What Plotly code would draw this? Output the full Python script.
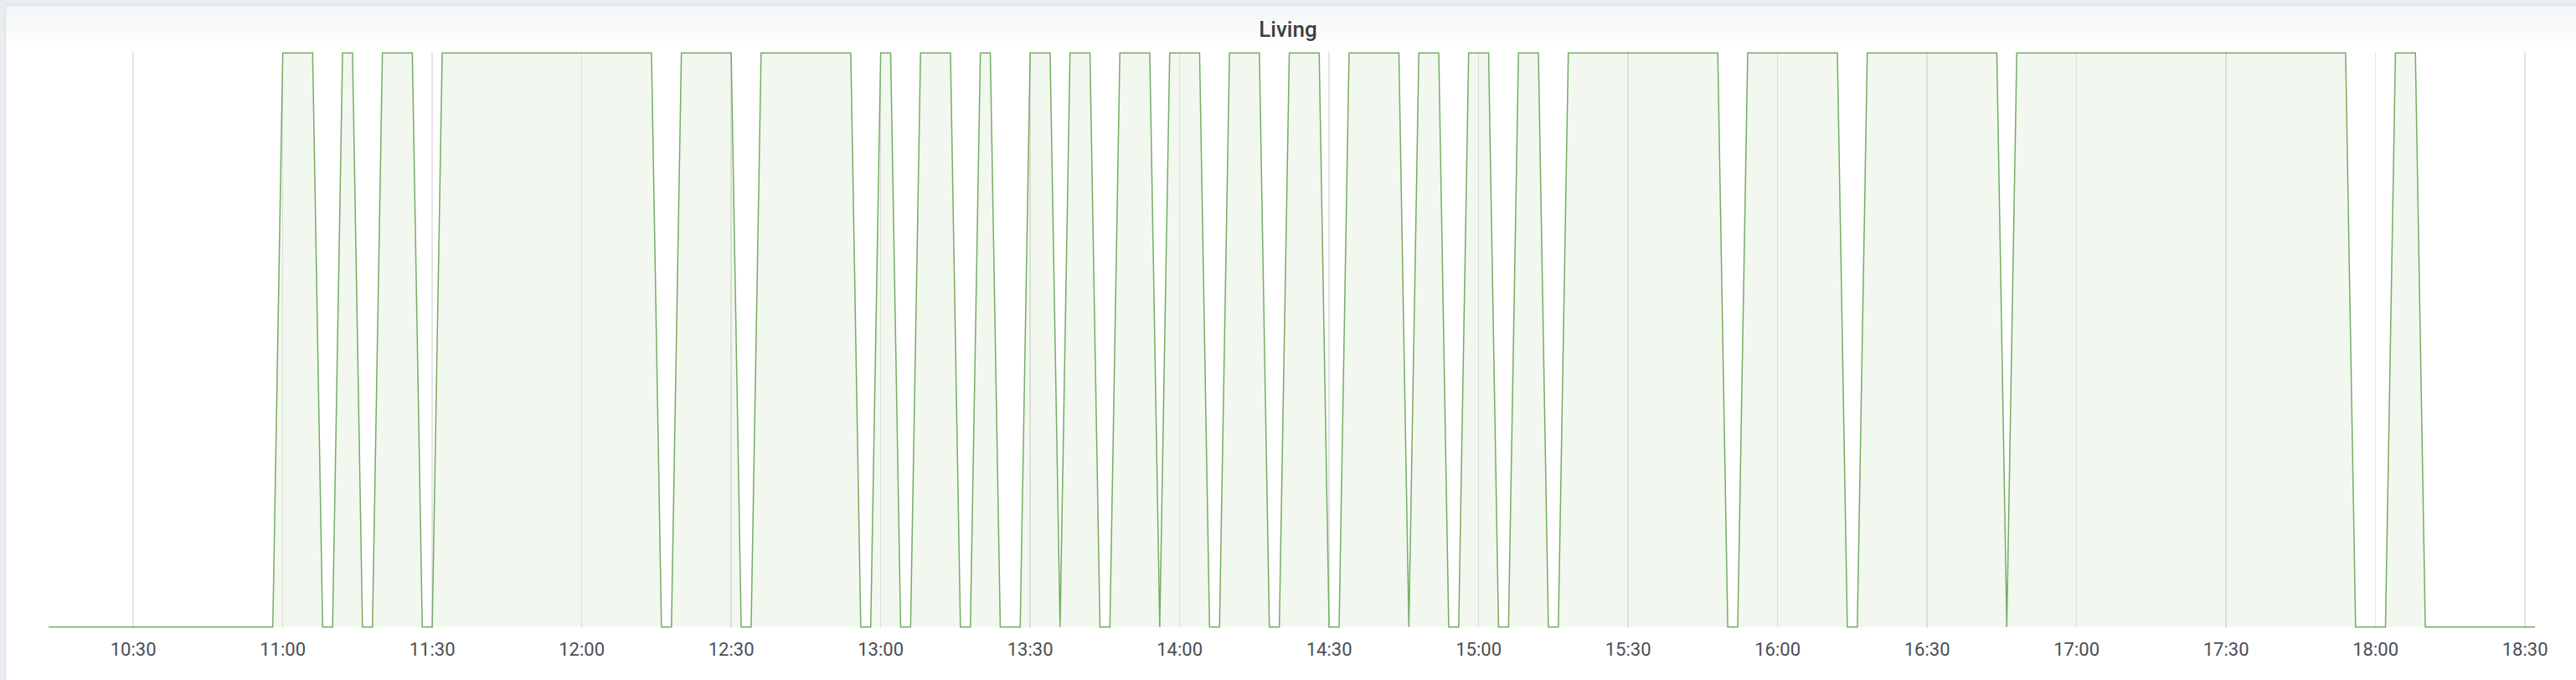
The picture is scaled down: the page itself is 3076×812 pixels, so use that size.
import plotly.graph_objects as go

# ---- data (vertex times and on/off level) ----
day = "2024-01-01 "
times = ["10:13", "10:58", "11:00", "11:06", "11:08", "11:10", "11:12", "11:14",
         "11:16", "11:18", "11:20", "11:26", "11:28", "11:30", "11:32", "12:14",
         "12:16", "12:18", "12:20", "12:30", "12:32", "12:34", "12:36", "12:54",
         "12:56", "12:58", "13:00", "13:02", "13:04", "13:06", "13:08", "13:14",
         "13:16", "13:18", "13:20", "13:22", "13:24", "13:28", "13:30", "13:34",
         "13:36", "13:38", "13:42", "13:44", "13:46", "13:48", "13:54", "13:56",
         "13:58", "14:04", "14:06", "14:08", "14:10", "14:16", "14:18", "14:20",
         "14:22", "14:28", "14:30", "14:32", "14:34", "14:44", "14:46", "14:48",
         "14:52", "14:54", "14:56", "14:58", "15:02", "15:04", "15:06", "15:08",
         "15:12", "15:14", "15:16", "15:18", "15:48", "15:50", "15:52", "15:54",
         "16:12", "16:14", "16:16", "16:18", "16:44", "16:46", "16:48", "17:54",
         "17:56", "18:02", "18:04", "18:08", "18:10", "18:32"]
levels = [0, 0, 1, 1, 0, 0, 1, 1,
          0, 0, 1, 1, 0, 0, 1, 1,
          0, 0, 1, 1, 0, 0, 1, 1,
          0, 0, 1, 1, 0, 0, 1, 1,
          0, 0, 1, 1, 0, 0, 1, 1,
          0, 1, 1, 0, 0, 1, 1, 0,
          1, 1, 0, 0, 1, 1, 0, 0,
          1, 1, 0, 0, 1, 1, 0, 1,
          1, 0, 0, 1, 1, 0, 0, 1,
          1, 0, 0, 1, 1, 0, 0, 1,
          1, 0, 0, 1, 1, 0, 1, 1,
          0, 0, 1, 1, 0, 0]
title_text = "Living"
tick_start = "10:30"

x = [day + t for t in times]

W, H = 3076, 812
ML, MR, MT, MB = 58, 49, 62, 62
PW = W - ML - MR
PH = H - MT - MB


def px_x(p):
    return (p - ML) / PW


def px_y(p):
    return (H - MB - p) / PH


LINE = "#73AE62"

fig = go.Figure()
fig.add_trace(go.Scatter(
    x=x, y=levels, mode="lines",
    line=dict(color=LINE, width=1.5, shape="linear"),
    fill="tozeroy", fillcolor="rgba(126,178,109,0.1)",
    hoverinfo="skip", showlegend=False,
))

shapes = []
# panel background + border
shapes.append(dict(type="rect", xref="paper", yref="paper", layer="below",
                   x0=px_x(6.5), x1=px_x(W + 20), y0=px_y(H + 20), y1=px_y(6.5),
                   fillcolor="#ffffff", line=dict(color="#dce1e6", width=1.5)))
# header gradient bands
grad = ["#f4f5f6", "#f5f6f7", "#f7f8f8", "#f8f9f9", "#fafafa", "#fbfbfc", "#fdfdfd", "#fefefe"]
top, bot = 7.5, 56
step = (bot - top) / len(grad)
for i, c in enumerate(grad):
    shapes.append(dict(type="rect", xref="paper", yref="paper", layer="below",
                       x0=px_x(7.5), x1=px_x(W + 20),
                       y0=px_y(top + (i + 1) * step), y1=px_y(top + i * step),
                       fillcolor=c, line=dict(width=0)))

fig.update_layout(
    width=W, height=H,
    margin=dict(l=ML, r=MR, t=MT, b=MB, pad=0),
    paper_bgcolor="#e9ecf0",
    plot_bgcolor="rgba(0,0,0,0)",
    shapes=shapes,
    title=dict(text=title_text, x=0.5, xanchor="center", xref="container",
               y=1 - 35 / H, yanchor="middle", yref="container",
               font=dict(family="Roboto", size=26, color="#3b3e44", weight=500)),
    font=dict(family="Roboto"),
    xaxis=dict(
        type="date", range=[x[0], x[-1]],
        tick0=day + tick_start, dtick=30 * 60 * 1000, tickformat="%H:%M",
        showgrid=True, gridcolor="rgba(0,0,0,0.1)", gridwidth=1.5,
        zeroline=False, showline=False,
        ticks="outside", ticklen=6, tickcolor="rgba(0,0,0,0)",
        tickfont=dict(family="Roboto", size=22, color="#4a4d55"),
        fixedrange=True,
    ),
    yaxis=dict(
        range=[-0.002, 1.002], showgrid=False, zeroline=False, showline=False,
        showticklabels=False, ticks="", fixedrange=True,
    ),
)

fig.write_html(
    "out.html",
    config={"displayModeBar": False, "staticPlot": True},
    post_script="document.body.style.margin='0';document.body.style.overflow='hidden';",
)
